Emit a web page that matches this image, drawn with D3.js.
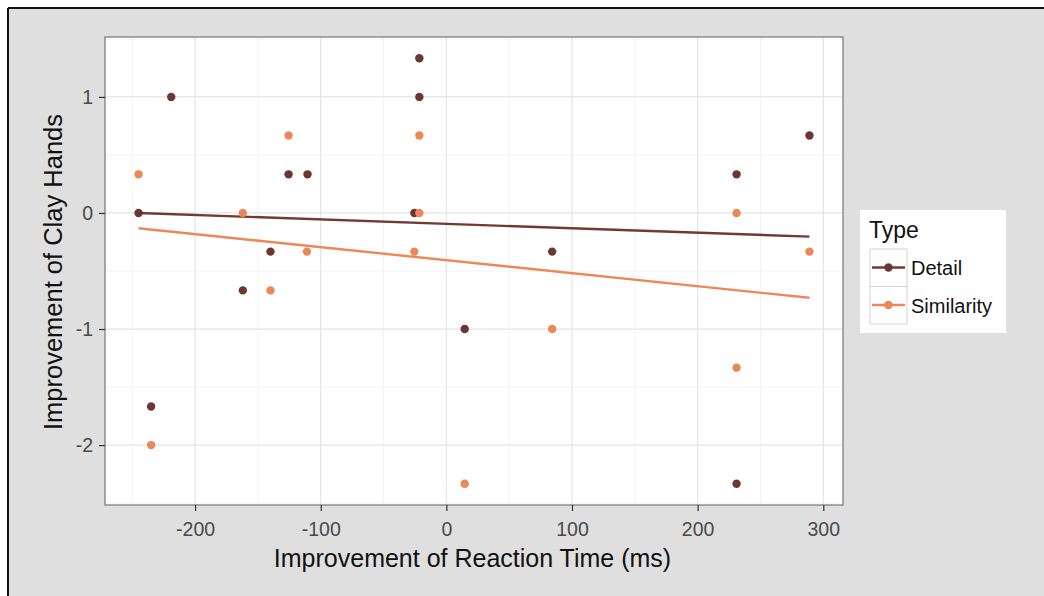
<!DOCTYPE html>
<html>
<head>
<meta charset="utf-8">
<script src="https://cdn.jsdelivr.net/npm/d3@7/dist/d3.min.js"></script>
<style>
  html, body { margin: 0; padding: 0; background: #ffffff; }
  svg { display: block; }
  text { font-family: "Liberation Sans", Arial, sans-serif; }
</style>
</head>
<body>
<svg id="chart" width="1044" height="596"></svg>
<script>
// ---- data ----
const seriesNames = ["Detail", "Similarity"];
const seriesColors = ["#6b3830", "#ec8857"];

const detailX = [-245, -219, -235, -162, -140, -125.6, -110.5, -21.5, -21.5, -25.5, 84.2, 14.6, 231, 289, 231];
const detailY = [0, 1, -1.667, -0.667, -0.333, 0.333, 0.333, 1.333, 1, 0, -0.333, -1, 0.333, 0.667, -2.333];

const similarityX = [-245, -235, -162, -140, -125.6, -111, -21.5, -21.5, -25.5, 84.2, 14.6, 231, 289, 231];
const similarityY = [0.333, -2, 0, -0.667, 0.667, -0.333, 0.667, 0, -0.333, -1, -2.333, 0, -0.333, -1.333];

// fitted lines (end points)
const detailFitX = [-245, 289];
const detailFitY = [0.0, -0.204];
const similarityFitX = [-245, 289];
const similarityFitY = [-0.132, -0.731];

const xTicks = [-200, -100, 0, 100, 200, 300];
const xMinor = [-250, -150, -50, 50, 150, 250];
const yTicks = [-2, -1, 0, 1];
const yMinor = [-2.5, -1.5, -0.5, 0.5, 1.5];

const xTitle = "Improvement of Reaction Time (ms)";
const yTitle = "Improvement of Clay Hands";
const legendTitle = "Type";

// ---- layout ----
const W = 1044, H = 596;
const panel = { left: 105, top: 37, right: 843, bottom: 505 };

const svg = d3.select("#chart");

// outer background + border (left/top visible)
svg.append("rect").attr("x", 0).attr("y", 0).attr("width", W).attr("height", H).attr("fill", "#ffffff");
svg.append("rect").attr("x", 8).attr("y", 8).attr("width", W - 8).attr("height", H - 8).attr("fill", "#dfdfdf");
svg.append("line").attr("x1", 8).attr("x2", W).attr("y1", 8).attr("y2", 8).attr("stroke", "#111").attr("stroke-width", 2);
svg.append("line").attr("x1", 8).attr("x2", 8).attr("y1", 8).attr("y2", H).attr("stroke", "#111").attr("stroke-width", 2);

// scales with 5% expansion like ggplot
const allX = detailX.concat(similarityX);
const allY = detailY.concat(similarityY);
const xExt = d3.extent(allX), yExt = d3.extent(allY);
const xPad = (xExt[1] - xExt[0]) * 0.05, yPad = (yExt[1] - yExt[0]) * 0.05;
const x = d3.scaleLinear().domain([xExt[0] - xPad, xExt[1] + xPad]).range([panel.left, panel.right]);
const y = d3.scaleLinear().domain([yExt[0] - yPad, yExt[1] + yPad]).range([panel.bottom, panel.top]);

// panel
svg.append("rect")
  .attr("x", panel.left).attr("y", panel.top)
  .attr("width", panel.right - panel.left).attr("height", panel.bottom - panel.top)
  .attr("fill", "#ffffff");

const grid = svg.append("g");
grid.selectAll(".xminor").data(xMinor).enter().append("line")
  .attr("x1", d => x(d)).attr("x2", d => x(d)).attr("y1", panel.top).attr("y2", panel.bottom)
  .attr("stroke", "#f3f3f3").attr("stroke-width", 1);
grid.selectAll(".yminor").data(yMinor).enter().append("line")
  .attr("y1", d => y(d)).attr("y2", d => y(d)).attr("x1", panel.left).attr("x2", panel.right)
  .attr("stroke", "#f3f3f3").attr("stroke-width", 1);
grid.selectAll(".xmajor").data(xTicks).enter().append("line")
  .attr("x1", d => x(d)).attr("x2", d => x(d)).attr("y1", panel.top).attr("y2", panel.bottom)
  .attr("stroke", "#e4e4e4").attr("stroke-width", 1.2);
grid.selectAll(".ymajor").data(yTicks).enter().append("line")
  .attr("y1", d => y(d)).attr("y2", d => y(d)).attr("x1", panel.left).attr("x2", panel.right)
  .attr("stroke", "#e4e4e4").attr("stroke-width", 1.2);

// fitted lines
const fits = [
  { xs: detailFitX, ys: detailFitY, color: "#733a30" },
  { xs: similarityFitX, ys: similarityFitY, color: seriesColors[1] }
];
const lineGen = d3.line().x(d => x(d[0])).y(d => y(d[1]));
fits.forEach(f => {
  svg.append("path")
    .attr("d", lineGen(f.xs.map((v, i) => [v, f.ys[i]])))
    .attr("fill", "none").attr("stroke", f.color).attr("stroke-width", 2.4);
});

// points (Detail first, Similarity on top)
const series = [
  { xs: detailX, ys: detailY, color: seriesColors[0] },
  { xs: similarityX, ys: similarityY, color: seriesColors[1] }
];
series.forEach(s => {
  svg.append("g").selectAll("circle")
    .data(s.xs.map((v, i) => [v, s.ys[i]]))
    .enter().append("circle")
    .attr("cx", d => x(d[0])).attr("cy", d => y(d[1])).attr("r", 4.2)
    .attr("fill", s.color);
});

// panel border
svg.append("rect")
  .attr("x", panel.left).attr("y", panel.top)
  .attr("width", panel.right - panel.left).attr("height", panel.bottom - panel.top)
  .attr("fill", "none").attr("stroke", "#7f7f7f").attr("stroke-width", 1.3);

// axes
const xAxis = svg.append("g").attr("transform", `translate(0,${panel.bottom})`)
  .call(d3.axisBottom(x).tickValues(xTicks).tickSize(6).tickPadding(11).tickFormat(d3.format("d")));
const yAxis = svg.append("g").attr("transform", `translate(${panel.left},0)`)
  .call(d3.axisLeft(y).tickValues(yTicks).tickSize(6).tickPadding(6).tickFormat(d3.format("d")));
[xAxis, yAxis].forEach(a => {
  a.select(".domain").remove();
  a.selectAll(".tick line").attr("stroke", "#333").attr("stroke-width", 1.2);
  a.selectAll(".tick text").attr("fill", "#4a4a4a")
    .style("font-size", "19.5px").style("font-family", "'Liberation Sans', Arial, sans-serif");
});
xAxis.selectAll(".tick text").text(d => String(d));
yAxis.selectAll(".tick text").text(d => String(d));

// axis titles
svg.append("text")
  .attr("x", 472.5).attr("y", 567)
  .attr("text-anchor", "middle").attr("fill", "#111")
  .style("font-size", "25px").text(xTitle);
svg.append("text")
  .attr("transform", `translate(62,${(panel.top + panel.bottom) / 2 + 1}) rotate(-90)`)
  .attr("text-anchor", "middle").attr("fill", "#111")
  .style("font-size", "25.5px").text(yTitle);

// legend
const lg = svg.append("g");
lg.append("rect").attr("x", 860).attr("y", 210).attr("width", 146).attr("height", 123).attr("fill", "#ffffff");
lg.append("text").attr("x", 869).attr("y", 238).attr("fill", "#111").style("font-size", "23px").text(legendTitle);
seriesNames.forEach((name, i) => {
  const ky = 249 + i * 37.5;
  lg.append("rect").attr("x", 870).attr("y", ky).attr("width", 37).attr("height", 37.5)
    .attr("fill", "#ffffff").attr("stroke", "#d4d4d4").attr("stroke-width", 1);
  lg.append("line").attr("x1", 872).attr("x2", 905).attr("y1", ky + 18.5).attr("y2", ky + 18.5)
    .attr("stroke", i === 0 ? "#733a30" : seriesColors[i]).attr("stroke-width", 2.4);
  lg.append("circle").attr("cx", 888.5).attr("cy", ky + 18.5).attr("r", 4.2).attr("fill", seriesColors[i]);
  lg.append("text").attr("x", 911).attr("y", ky + 26).attr("fill", "#111")
    .style("font-size", "20px").text(name);
});
</script>
</body>
</html>
